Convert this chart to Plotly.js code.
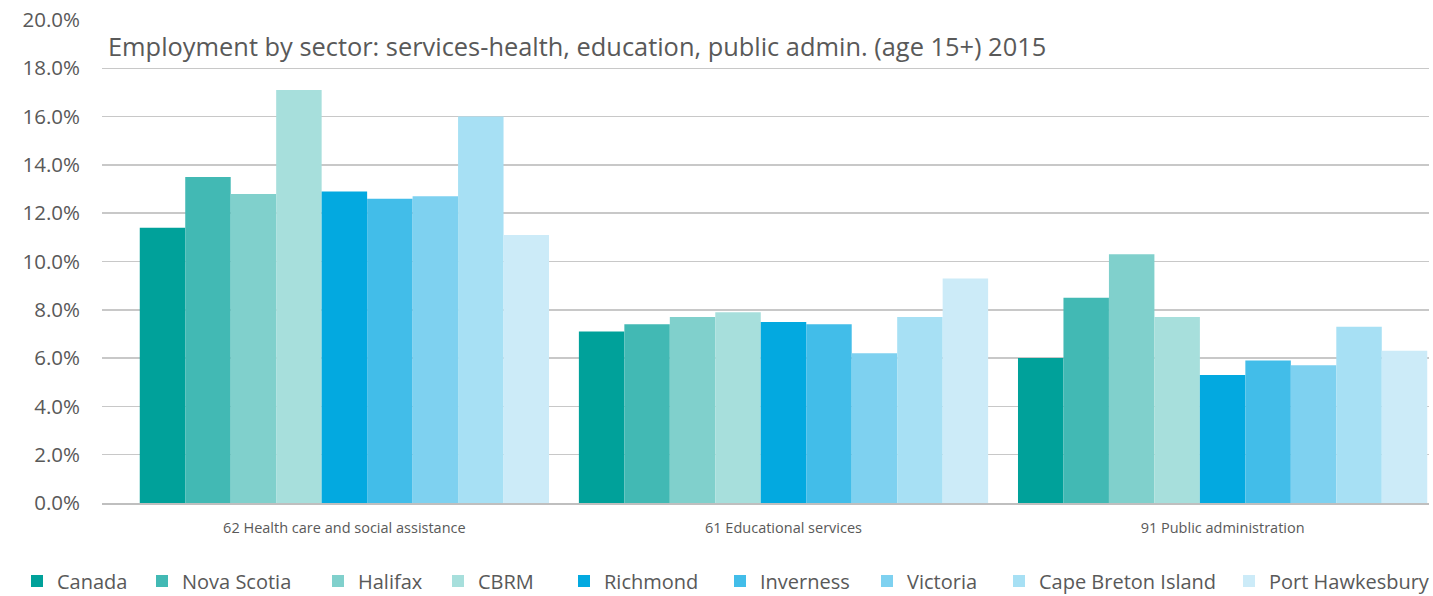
<!DOCTYPE html>
<html>
<head>
<meta charset="utf-8">
<script src="https://cdn.plot.ly/plotly-3.0.1.min.js"></script>
<style>html,body{margin:0;padding:0;background:#fff;}#chart{width:1433px;height:596px;}</style>
</head>
<body>
<div id="chart"></div>
<script>
const categories = ["62 Health care and social assistance", "61 Educational services", "91 Public administration"];
const seriesNames = ["Canada", "Nova Scotia", "Halifax", "CBRM", "Richmond", "Inverness", "Victoria", "Cape Breton Island", "Port Hawkesbury"];
const canada = [0.114, 0.071, 0.060];
const novaScotia = [0.135, 0.074, 0.085];
const halifax = [0.128, 0.077, 0.103];
const cbrm = [0.171, 0.079, 0.077];
const richmond = [0.129, 0.075, 0.053];
const inverness = [0.126, 0.074, 0.059];
const victoria = [0.127, 0.062, 0.057];
const capeBretonIsland = [0.160, 0.077, 0.073];
const portHawkesbury = [0.111, 0.093, 0.063];
const yTickVals = [0, 0.02, 0.04, 0.06, 0.08, 0.10, 0.12, 0.14, 0.16, 0.18, 0.20];
const colors = ["#00A19A", "#42B9B4", "#80D0CC", "#A7DFDC", "#03A9E0", "#42BDE9", "#7ED1F0", "#A7E0F4", "#CCEBF8"];

const FONT = 'Open Sans, sans-serif';
const W = 1433;
// left pixel of each legend entry box
const legendLeft = [17, 142, 318, 438, 564, 720, 867, 999, 1229];

const allValues = [canada, novaScotia, halifax, cbrm, richmond, inverness, victoria, capeBretonIsland, portHawkesbury];
const traces = allValues.map((vals, i) => ({
  type: 'bar',
  name: seriesNames[i],
  x: categories,
  y: vals,
  marker: {color: colors[i], line: {width: 0}},
  legend: i === 0 ? 'legend' : 'legend' + (i + 1),
  hoverinfo: 'name+y'
}));

const layout = {
  width: W,
  height: 596,
  margin: {l: 102, r: 4, t: 20, b: 93},
  paper_bgcolor: '#fff',
  plot_bgcolor: '#fff',
  font: {family: FONT, color: '#595959'},
  barmode: 'group',
  bargap: 0.068,
  bargroupgap: 0,
  showlegend: true,
  xaxis: {
    type: 'category',
    range: [-0.552, 2.470],
    showgrid: false,
    showline: true,
    linecolor: '#BFBFBF',
    linewidth: 1.5,
    ticks: '',
    tickfont: {size: 14.5, color: '#595959', family: FONT},
    ticklabelstandoff: 11,
    fixedrange: true
  },
  yaxis: {
    range: [0, 0.20],
    tickvals: yTickVals,
    tickformat: '.1%',
    showgrid: true,
    gridcolor: '#C8C8C8',
    gridwidth: 1.5,
    zeroline: false,
    showline: false,
    ticks: '',
    tickfont: {size: 20.5, color: '#595959', family: FONT},
    ticklabelstandoff: 21,
    fixedrange: true
  },
  annotations: [{
    text: 'Employment by sector: services-health, education, public admin. (age 15+) 2015',
    xref: 'paper', yref: 'paper',
    x: 0.003, y: 0.946,
    xanchor: 'left', yanchor: 'middle',
    showarrow: false,
    font: {size: 25.4, color: '#595959', family: FONT}
  }]
};

legendLeft.forEach((px, i) => {
  const key = i === 0 ? 'legend' : 'legend' + (i + 1);
  layout[key] = {
    orientation: 'h',
    x: px / W, xref: 'container', xanchor: 'left',
    y: 15 / 596, yref: 'container', yanchor: 'middle',
    font: {size: 20, color: '#595959', family: FONT},
    bgcolor: 'rgba(0,0,0,0)',
    borderwidth: 0
  };
});

Plotly.newPlot('chart', traces, layout, {displayModeBar: false, staticPlot: true});
</script>
</body>
</html>
